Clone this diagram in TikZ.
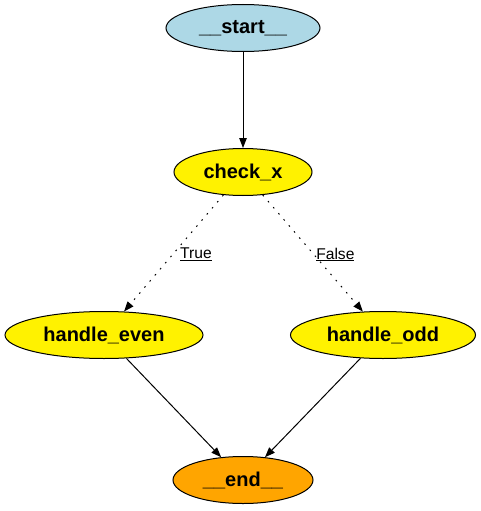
\documentclass[tikz,border=0pt]{standalone}
\usepackage{fontspec}
\setmainfont{Liberation Sans}
\usetikzlibrary{shapes.geometric,positioning,arrows.meta}

\definecolor{lightblue}{RGB}{173,216,230}
\definecolor{graphorange}{RGB}{255,165,0}

\begin{document}
\begin{tikzpicture}[
    x=1pt, y=-1pt,
    state/.style={ellipse, draw, line width=1pt, inner sep=0pt, minimum height=47pt, font=\fontsize{20}{22}\selectfont\bfseries},
    arrow/.style={-{Triangle[length=10pt,width=7.5pt]}, line width=1pt},
    cond/.style={arrow, dash pattern=on 1.6pt off 6.4pt},
    edgelabel/.style={font=\fontsize{15.6}{17}\selectfont, inner sep=1pt, anchor=west},
    on grid,
]
\useasboundingbox (0,0) rectangle (481,511);

% ---- nodes of the graph ----
\node[state, fill=lightblue, minimum width=154pt] (start) at (243,28) {\_\_start\_\_};
\node[state, fill=yellow, minimum width=138pt, below=144pt of start] (check) {check\_x};
\node[state, fill=yellow, minimum width=198pt, below left=163pt and 139pt of check] (even) {handle\_even};
\node[state, fill=yellow, minimum width=185pt, below right=163pt and 140pt of check] (odd) {handle\_odd};
\node[state, fill=graphorange, minimum width=140pt, below=308pt of check] (end) {\_\_end\_\_};

% ---- edges ----
\draw[arrow] (start) -- (check);
\draw[cond] (check) -- node[edgelabel, pos=0.51, xshift=6pt] {\underline{True}} (even);
\draw[cond] (check) -- node[edgelabel, pos=0.51, xshift=1pt] {\underline{False}} (odd);
\draw[arrow] (even) -- (end);
\draw[arrow] (odd) -- (end);

\end{tikzpicture}
\end{document}
